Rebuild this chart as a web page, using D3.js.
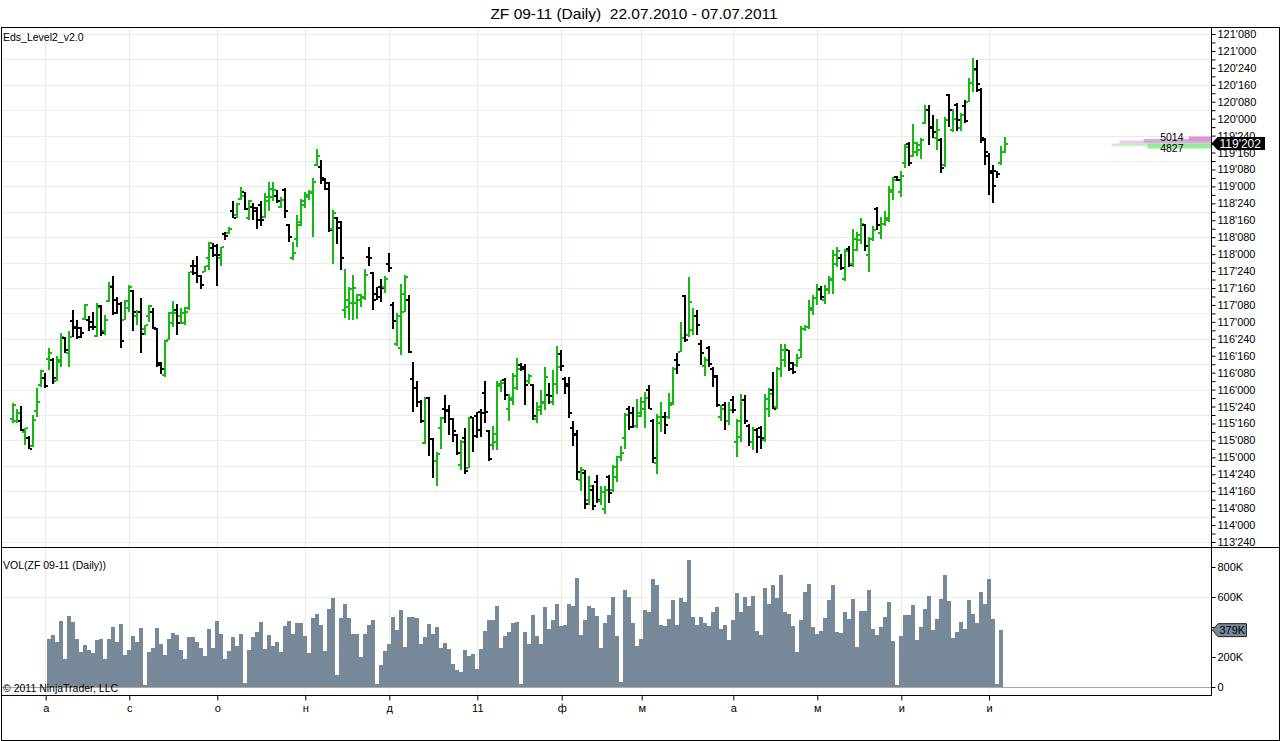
<!DOCTYPE html>
<html>
<head>
<meta charset="utf-8">
<title>ZF 09-11 (Daily)</title>
<script src="https://cdn.jsdelivr.net/npm/d3@7"></script>
<style>
  html, body { margin: 0; padding: 0; background: #fff; }
  svg { display: block; font-family: "Liberation Sans", Arial, sans-serif; }
</style>
</head>
<body>
<svg id="chart" width="1280" height="741"></svg>
<script>
// Daily OHLC, ZF 09-11, one entry per trading day
const opens = [
  115.56,115.53,115.53,115.38,115.28,115.17,115.69,116.07,116.17,116.45,
  116.43,116.13,116.44,116.76,116.54,117.02,116.93,116.91,117.04,117.03,
  117.00,116.79,117.24,116.86,117.31,117.52,117.33,117.26,117.03,117.20,
  117.46,117.09,117.15,116.89,117.08,117.14,116.91,116.40,116.22,116.73,
  116.98,117.18,117.09,116.98,117.20,117.82,117.82,117.67,117.73,117.94,
  118.09,118.12,117.94,118.30,118.31,118.64,118.58,118.81,118.91,118.54,
  118.69,118.68,118.73,118.55,118.78,118.85,118.86,118.70,118.95,118.43,
  117.95,118.23,118.43,118.73,118.85,118.90,119.32,119.29,119.09,119.05,
  118.37,118.54,118.48,117.17,117.22,117.28,117.28,117.33,117.35,117.96,
  117.72,117.41,117.52,117.52,117.86,117.25,116.67,116.61,117.41,117.33,
  116.15,116.03,115.82,115.21,115.87,115.27,114.94,115.43,115.71,115.70,
  115.56,115.33,114.89,115.28,114.84,115.59,115.61,115.67,115.95,115.39,
  115.18,115.23,116.05,116.14,115.71,115.85,116.03,116.36,116.34,116.12,
  116.07,115.56,115.70,115.80,115.92,115.81,116.09,116.53,116.15,116.09,
  115.43,115.35,114.67,114.77,114.37,114.52,114.64,114.35,114.23,114.71,
  114.52,114.86,115.01,115.28,115.71,115.65,115.46,115.61,115.71,115.99,
  115.54,114.92,115.50,115.60,115.60,115.80,116.44,116.56,117.38,116.81,
  116.88,117.08,116.67,116.35,116.61,116.31,116.19,115.60,115.77,115.53,
  115.84,115.23,115.30,115.85,115.46,115.23,115.41,115.43,115.26,115.72,
  116.00,115.74,116.31,116.44,116.58,116.39,116.36,116.58,116.89,116.93,
  117.18,117.35,117.48,117.32,117.47,117.62,117.86,117.95,117.63,118.07,
  117.86,118.06,118.21,118.43,117.99,118.23,118.66,118.31,118.44,118.50,
  118.92,119.14,118.92,119.34,119.63,119.45,119.51,119.54,119.93,120.13,
  119.87,119.71,119.68,119.32,120.35,119.83,120.20,119.86,120.18,120.25,
  120.52,120.73,120.42,119.68,119.45,119.22,119.22,119.34,119.51
];
const highs = [
  115.80,115.72,115.76,115.44,115.32,115.63,116.02,116.29,116.24,116.61,
  116.46,116.50,116.84,116.78,116.86,117.18,117.03,116.92,117.27,117.08,
  117.14,117.28,117.25,117.10,117.59,117.67,117.37,117.30,117.32,117.54,
  117.47,117.17,117.35,116.95,117.25,117.20,116.91,116.41,116.73,117.15,
  117.31,117.26,117.20,117.22,117.74,117.92,117.97,117.69,117.83,118.18,
  118.16,118.15,118.11,118.32,118.40,118.78,118.75,118.99,118.92,118.80,
  118.76,118.70,118.79,118.90,119.06,119.06,118.94,118.84,118.97,118.44,
  118.18,118.58,118.82,118.92,118.94,119.13,119.55,119.39,119.12,119.07,
  118.65,118.55,118.49,117.78,117.52,117.69,117.41,117.41,117.78,118.10,
  117.73,117.52,117.63,117.67,118.01,117.30,117.13,117.56,117.69,117.40,
  116.41,116.13,115.85,115.89,115.89,115.28,115.08,115.60,115.92,115.77,
  115.58,115.34,115.26,115.43,115.59,115.60,115.67,115.72,116.13,115.40,
  115.46,116.12,116.14,116.17,115.94,116.25,116.46,116.40,116.38,116.23,
  116.08,115.82,115.99,116.33,116.10,116.29,116.64,116.58,116.19,116.18,
  115.54,115.41,114.86,114.81,114.72,114.59,114.74,114.58,114.57,114.74,
  114.89,115.02,115.16,115.66,115.76,115.74,115.86,115.89,115.97,116.07,
  115.56,115.64,115.81,115.67,115.95,116.33,116.54,117.00,117.40,117.66,
  117.21,117.18,116.73,116.48,116.64,116.34,116.22,115.77,115.81,115.81,
  115.91,115.56,115.94,115.92,115.49,115.45,115.44,115.46,115.94,116.03,
  116.26,116.34,116.67,116.68,116.59,116.41,116.53,116.94,116.95,117.33,
  117.40,117.56,117.53,117.54,117.68,118.06,118.10,118.00,118.07,118.12,
  118.37,118.32,118.54,118.45,118.26,118.41,118.69,118.55,118.63,119.00,
  119.14,119.15,119.22,119.63,119.65,119.92,119.66,119.72,120.20,120.20,
  120.05,119.99,119.72,120.03,120.36,120.15,120.23,120.08,120.27,120.60,
  120.89,120.87,120.45,119.71,119.49,119.32,119.23,119.59,119.73
];
const lows = [
  115.50,115.50,115.39,115.18,115.12,115.15,115.59,116.04,116.03,116.29,
  116.09,116.12,116.34,116.54,116.34,116.78,116.74,116.76,117.03,116.87,
  116.88,116.78,116.79,116.81,117.30,117.10,117.12,116.61,117.03,117.15,
  116.87,116.95,116.54,116.81,117.00,116.89,116.34,116.23,116.19,116.73,
  116.93,116.81,116.97,116.95,117.17,117.69,117.57,117.48,117.73,117.77,
  117.96,117.53,117.82,118.21,118.30,118.53,118.53,118.80,118.65,118.51,
  118.50,118.37,118.42,118.53,118.63,118.78,118.75,118.68,118.54,118.18,
  117.92,118.10,118.42,118.68,118.80,118.26,119.30,119.03,118.94,118.32,
  117.86,118.15,117.77,117.05,117.03,117.03,117.04,117.22,117.33,117.82,
  117.17,117.32,117.30,117.43,117.74,116.89,116.64,116.51,117.15,116.54,
  115.67,115.75,115.50,115.20,115.02,114.70,114.57,115.13,115.50,115.33,
  115.23,115.03,114.81,114.76,114.84,115.08,115.28,115.30,115.50,114.94,
  115.11,115.11,115.96,115.85,115.53,115.77,115.99,116.28,115.77,116.09,
  115.55,115.51,115.62,115.70,115.79,115.77,115.93,116.28,115.93,115.58,
  115.17,114.66,114.51,114.23,114.30,114.22,114.32,114.30,114.16,114.32,
  114.49,114.63,114.94,115.13,115.41,115.44,115.43,115.60,115.44,115.71,
  114.91,114.76,115.38,115.34,115.56,115.77,116.23,116.55,116.71,116.78,
  116.81,116.81,116.36,116.20,116.33,116.04,115.74,115.53,115.40,115.48,
  115.65,115.01,115.23,115.49,115.17,115.11,115.07,115.12,115.23,115.60,
  115.72,115.72,116.19,116.34,116.28,116.23,116.34,116.46,116.87,116.90,
  117.10,117.25,117.32,117.27,117.41,117.41,117.81,117.76,117.61,117.81,
  117.81,118.04,118.15,118.04,117.73,118.20,118.36,118.22,118.41,118.48,
  118.80,119.08,118.85,119.27,119.30,119.43,119.45,119.41,119.92,119.61,
  119.71,119.54,119.20,119.29,119.87,119.81,119.82,119.82,119.94,120.24,
  120.40,120.40,119.64,119.32,118.87,118.76,119.12,119.32,119.49
];
const closes = [
  115.77,115.66,115.40,115.43,115.13,115.55,115.82,116.28,116.05,116.54,
  116.17,116.41,116.77,116.58,116.77,116.91,116.78,116.84,117.25,116.93,
  116.93,117.22,116.83,117.03,117.53,117.13,117.27,116.72,117.31,117.51,
  117.14,117.15,116.82,116.95,117.23,116.89,116.36,116.31,116.72,117.13,
  117.13,116.99,117.13,117.14,117.73,117.72,117.67,117.54,117.82,118.17,
  117.99,117.99,118.10,118.27,118.37,118.54,118.74,118.86,118.66,118.79,
  118.63,118.50,118.50,118.84,118.96,118.95,118.78,118.80,118.63,118.26,
  118.02,118.48,118.78,118.87,118.92,119.06,119.45,119.12,118.96,118.36,
  118.61,118.38,117.95,117.33,117.48,117.50,117.40,117.37,117.69,117.94,
  117.33,117.37,117.50,117.63,117.80,117.02,117.08,117.14,117.66,116.55,
  116.03,115.82,115.53,115.87,115.27,114.95,115.05,115.58,115.69,115.56,
  115.39,115.07,115.23,114.80,115.58,115.32,115.40,115.65,115.67,114.97,
  115.35,116.09,116.10,115.92,115.87,116.20,116.31,116.31,116.07,116.20,
  115.61,115.75,115.82,116.19,115.91,116.09,116.33,116.35,116.05,115.65,
  115.33,114.79,114.82,114.31,114.57,114.28,114.37,114.49,114.52,114.48,
  114.71,115.00,115.07,115.62,115.45,115.46,115.66,115.82,115.87,115.72,
  114.99,115.60,115.60,115.48,115.77,116.30,116.36,116.76,116.73,117.30,
  117.09,116.95,116.54,116.44,116.38,116.20,115.77,115.72,115.53,115.70,
  115.70,115.54,115.85,115.53,115.22,115.40,115.30,115.28,115.86,115.94,
  115.72,116.30,116.58,116.58,116.31,116.26,116.46,116.90,116.93,117.20,
  117.35,117.47,117.37,117.49,117.64,117.99,118.04,117.79,118.04,117.84,
  118.23,118.28,118.44,118.12,118.23,118.36,118.43,118.45,118.53,118.95,
  119.09,119.10,119.15,119.58,119.34,119.64,119.61,119.69,120.13,119.86,
  119.81,119.83,119.27,119.98,120.13,120.00,119.98,120.05,119.96,120.52,
  120.72,120.51,119.72,119.51,119.20,119.00,119.19,119.51,119.6328
];
// Volume in thousands of contracts; null where the panel shows no bar
const volumes = [
  null,null,null,null,null,null,null,null,null,318,
  344,300,438,187,471,433,322,233,282,249,
  227,311,322,187,318,398,300,418,211,247,
  338,298,391,11,231,258,393,284,211,322,
  358,344,244,189,331,331,300,262,204,384,
  258,438,351,187,240,331,271,351,24,244,
  331,367,433,251,344,271,298,231,404,438,
  351,424,424,338,224,458,487,411,238,518,
  591,78,458,551,458,351,351,198,351,411,
  444,18,144,238,284,464,378,511,264,464,
  464,458,284,331,418,351,398,258,291,251,
  151,111,98,244,204,218,118,251,371,444,
  444,538,260,338,364,424,431,18,364,284,
  478,338,284,531,384,444,551,404,411,551,
  538,724,344,444,538,524,471,258,424,478,
  598,338,31,644,598,424,271,318,511,498,
  718,678,411,404,451,578,411,591,564,844,
  464,411,464,424,404,498,531,384,411,311,
  444,624,498,598,538,604,371,344,658,551,
  678,591,744,498,484,404,231,444,631,684,
  398,351,371,458,578,678,364,358,498,451,
  584,264,504,504,644,384,344,398,464,564,
  304,11,338,478,478,544,311,398,518,604,
  378,451,584,744,571,324,364,431,384,578,
  484,424,631,551,718,451,18,379,null
];
// Month labels (Russian locale) and the bar position of each month tick
const monthLabels = ['а', 'с', 'о', 'н', 'д', '11', 'ф', 'м', 'а', 'м', 'и', 'и'];
const monthTickBars = [8.25, 29.15, 51.15, 73.15, 94.15, 116.15, 137.25, 157.25, 180.15, 201.15, 222.15, 244.08];
const priceTicks = [
  121.25, 121.0, 120.75, 120.5, 120.25, 120.0, 119.75, 119.5, 119.25, 119.0,
  118.75, 118.5, 118.25, 118.0, 117.75, 117.5, 117.25, 117.0, 116.75, 116.5,
  116.25, 116.0, 115.75, 115.5, 115.25, 115.0, 114.75, 114.5, 114.25, 114.0, 113.75
];
const volumeTicks = [0, 200, 400, 600, 800];
// Level II snapshot at the last price (contracts)
const level2AskSizes = [5014, 3700, 1250];
const level2BidSizes = [5450, 3490];
const level2AskLabel = 5014;
const level2BidLabel = 4827;

const UP = '#12BA12';
const DOWN = '#000000';
const VOL = '#778899';
const GRID = '#EDEDDF';

const plot = { left: 1.5, right: 1211.5, top: 27.5, priceBottom: 547.5, volBottom: 695.5, bottom: 740.5, edge: 1279.5 };

const svg = d3.select('#chart');

const last = opens.length - 1;
const x = d3.scaleLinear().domain([0, last]).range([12.7, 12.7 + 4 * last]);
const y = d3.scaleLinear().domain([113.75, 121.25]).range([542, 34]);
const yVol = d3.scaleLinear().domain([0, 800]).range([687, 567]);

// 32nds with quarter ticks: 119.6328 -> 119'202
function fmt32(p) {
  const whole = Math.floor(p + 1e-9);
  const t = Math.floor((p - whole) * 320 + 1e-6);
  return whole + "'" + String(t).padStart(3, '0');
}

// Title
svg.append('text')
  .attr('x', 634).attr('y', 19)
  .attr('text-anchor', 'middle').attr('font-size', '15.5px')
  .style('white-space', 'pre')
  .text('ZF 09-11 (Daily)  22.07.2010 - 07.07.2011');

// Grid
const grid = svg.append('g').attr('stroke', GRID).attr('shape-rendering', 'crispEdges');
d3.range(113.75, 121.26, 0.375).forEach(v => {
  const yy = Math.round(y(v)) + 0.5;
  grid.append('line').attr('x1', plot.left).attr('x2', plot.right).attr('y1', yy).attr('y2', yy);
});
monthTickBars.forEach(t => {
  const xx = Math.floor(x(t)) + 0.5;
  grid.append('line').attr('x1', xx).attr('x2', xx).attr('y1', plot.top).attr('y2', plot.volBottom);
});
{
  const yy = Math.round(yVol(600)) + 0.5;
  grid.append('line').attr('x1', plot.left).attr('x2', plot.right).attr('y1', yy).attr('y2', yy);
}

// OHLC bars
const bars = opens.map((o, i) => ({ i, o, h: highs[i], l: lows[i], c: closes[i] }));
const barG = svg.append('g').attr('shape-rendering', 'crispEdges');
const bar = barG.selectAll('g').data(bars).join('g')
  .attr('fill', d => d.c >= d.o ? UP : DOWN);
bar.append('rect')
  .attr('x', d => Math.round(x(d.i)) - 1).attr('width', 2)
  .attr('y', d => Math.round(y(d.h)))
  .attr('height', d => Math.max(2, Math.round(y(d.l)) - Math.round(y(d.h))));
bar.append('rect')
  .attr('x', d => Math.round(x(d.i)) - 3).attr('width', 2)
  .attr('y', d => Math.round(y(d.o)) - 1).attr('height', 2);
bar.append('rect')
  .attr('x', d => Math.round(x(d.i)) + 1).attr('width', 2)
  .attr('y', d => Math.round(y(d.c)) - 1).attr('height', 2);

// Volume bars
const volBars = volumes.map((v, i) => ({ i, v })).filter(d => d.v != null);
svg.append('g').attr('shape-rendering', 'crispEdges')
  .selectAll('rect').data(volBars).join('rect')
  .attr('x', d => Math.round(x(d.i)) - 2).attr('width', 4)
  .attr('y', d => Math.round(yVol(d.v)))
  .attr('height', d => Math.round(yVol(0)) - Math.round(yVol(d.v)))
  .attr('fill', VOL);
svg.append('line')
  .attr('x1', plot.left).attr('x2', plot.right)
  .attr('y1', Math.round(yVol(0)) + 0.5).attr('y2', Math.round(yVol(0)) + 0.5)
  .attr('stroke', '#A9A9A9').attr('shape-rendering', 'crispEdges');

// Level II depth bars at the right of the price panel
const lastPrice = closes[last];
const py = y(lastPrice);
const depth = d3.scaleLinear().domain([0, 5450]).range([0, 100]);
const askBands = [[-3, 0.5, '#EBCBEB'], [-4.5, -0.5, '#DEA6DE'], [-7, -2.5, '#D797D7']];
const bidBands = [[0, 2.5, '#C6F0C6'], [0, 5, '#94EC94']];
level2AskSizes.forEach((s, k) => {
  const [t, b, col] = askBands[k];
  svg.append('rect').attr('x', plot.right - depth(s)).attr('y', py + t)
    .attr('width', depth(s)).attr('height', b - t).attr('fill', col);
});
level2BidSizes.forEach((s, k) => {
  const [t, b, col] = bidBands[k];
  svg.append('rect').attr('x', plot.right - depth(s)).attr('y', py + t)
    .attr('width', depth(s)).attr('height', b - t).attr('fill', col);
});
svg.append('text').attr('x', plot.right - 28).attr('y', py - 2.5)
  .attr('text-anchor', 'end').attr('font-size', '10.5px').text(level2AskLabel);
svg.append('text').attr('x', plot.right - 28).attr('y', py + 8)
  .attr('text-anchor', 'end').attr('font-size', '10.5px').text(level2BidLabel);

// Panel labels
svg.append('text').attr('x', 3).attr('y', 41).attr('font-size', '10.5px').text('Eds_Level2_v2.0');
svg.append('text').attr('x', 3).attr('y', 569).attr('font-size', '10.5px').text('VOL(ZF 09-11 (Daily))');
svg.append('text').attr('x', 3).attr('y', 692).attr('font-size', '10.5px').text('\u00A9 2011 NinjaTrader, LLC');

// Price axis
function styleAxis(g) {
  g.attr('font-family', '"Liberation Sans", Arial, sans-serif').attr('font-size', 11);
  g.select('.domain').remove();
}
svg.append('g').attr('transform', `translate(${plot.right},0)`)
  .call(d3.axisRight(y).tickValues(priceTicks).tickFormat(fmt32).tickSize(4).tickSizeOuter(0).tickPadding(2))
  .call(styleAxis);
svg.append('g').attr('transform', `translate(${plot.right},0)`)
  .call(d3.axisRight(y).tickValues(priceTicks.slice(1).map((p, k) => (p + priceTicks[k]) / 2)).tickFormat('').tickSize(4).tickSizeOuter(0))
  .call(styleAxis);

// Volume axis, labels that collide with the last-value marker are hidden
const lastVol = volBars[volBars.length - 1].v;
const vy = yVol(lastVol);
svg.append('g').attr('transform', `translate(${plot.right},0)`)
  .call(d3.axisRight(yVol).tickValues(volumeTicks)
    .tickFormat(d => Math.abs(yVol(d) - vy) < 11 ? '' : (d === 0 ? '0' : d + 'K'))
    .tickSize(4).tickSizeOuter(0).tickPadding(2))
  .call(styleAxis);

// Time axis
svg.append('g').attr('transform', `translate(0,${plot.volBottom})`)
  .call(d3.axisBottom(x).tickValues(monthTickBars).tickFormat((d, k) => monthLabels[k]).tickSize(5).tickSizeOuter(0).tickPadding(4))
  .call(styleAxis);

// Last price marker
svg.append('path')
  .attr('d', `M${plot.right},${py} L${plot.right + 6},${py - 6.5} H1265 V${py + 6.5} H${plot.right + 6} Z`)
  .attr('fill', '#000');
svg.append('text').attr('x', plot.right + 8).attr('y', py + 4.5)
  .attr('fill', '#fff').attr('font-size', '12px').text(fmt32(lastPrice));

// Last volume marker
svg.append('path')
  .attr('d', `M${plot.right + 1},${vy} L${plot.right + 6.5},${vy - 6.5} H1246.5 V${vy + 6.5} H${plot.right + 6.5} Z`)
  .attr('fill', VOL).attr('stroke', '#222').attr('stroke-width', 1);
svg.append('text').attr('x', plot.right + 8).attr('y', vy + 4)
  .attr('font-size', '11px').text(Math.round(lastVol) + 'K');

// Frame and panel separators
const frame = svg.append('g').attr('stroke', '#000').attr('fill', 'none').attr('shape-rendering', 'crispEdges');
frame.append('rect').attr('x', plot.left).attr('y', plot.top)
  .attr('width', plot.edge - plot.left).attr('height', plot.bottom - plot.top);
frame.append('line').attr('x1', plot.right).attr('x2', plot.right).attr('y1', plot.top).attr('y2', plot.volBottom);
frame.append('line').attr('x1', plot.left).attr('x2', plot.edge).attr('y1', plot.priceBottom).attr('y2', plot.priceBottom);
frame.append('line').attr('x1', plot.left).attr('x2', plot.right).attr('y1', plot.volBottom).attr('y2', plot.volBottom);
</script>
</body>
</html>
